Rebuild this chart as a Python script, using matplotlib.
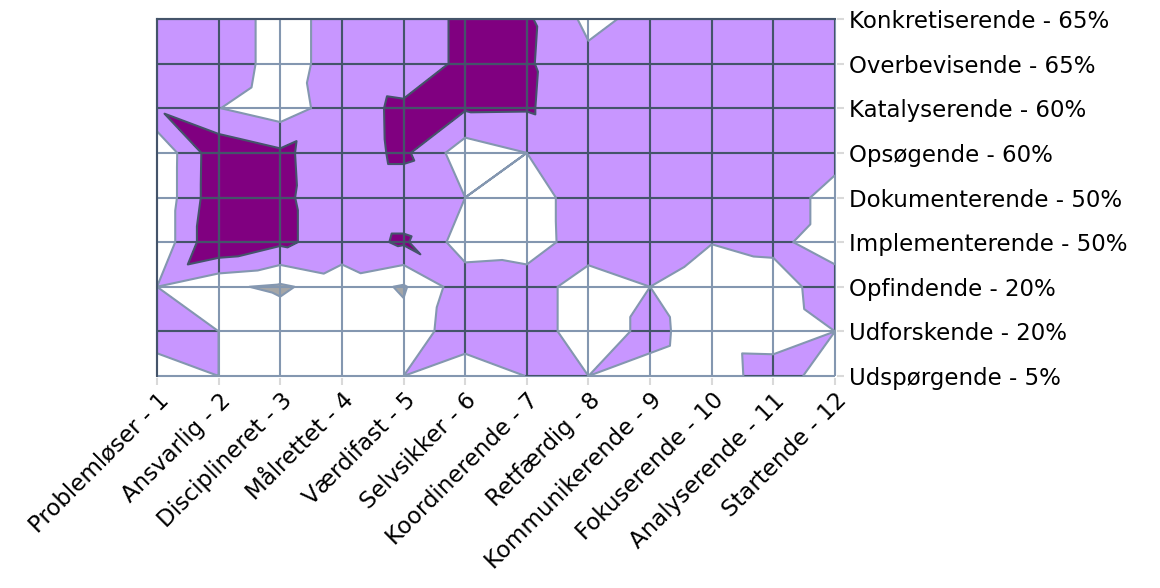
import numpy as np
import matplotlib.pyplot as plt
import matplotlib.tri as mtri
from matplotlib.collections import LineCollection

x_labels = ["Problemløser - 1", "Ansvarlig - 2", "Disciplineret - 3", "Målrettet - 4",
            "Værdifast - 5", "Selvsikker - 6", "Koordinerende - 7", "Retfærdig - 8",
            "Kommunikerende - 9", "Fokuserende - 10", "Analyserende - 11", "Startende - 12"]
# bottom to top
y_labels = ["Udspørgende - 5%", "Udforskende - 20%", "Opfindende - 20%",
            "Implementerende - 50%", "Dokumenterende - 50%", "Opsøgende - 60%",
            "Katalyserende - 60%", "Overbevisende - 65%", "Konkretiserende - 65%"]

# surface values, one series per row (bottom row first)
udspoergende    = [1.48, 2.00, 1.50, 1.50, 2.00, 1.30, 2.02, 2.00, 1.80, 1.60, 2.38, 1.59]
udforskende     = [2.50, 2.00, 1.53, 1.50, 1.30, 2.70, 2.40, 1.60, 2.19, 1.63, 1.60, 2.00]
opfindende      = [2.00, 1.15, 0.85, 1.50, 0.90, 2.60, 2.40, 1.60, 2.00, 1.60, 1.65, 2.40]
implementerende = [1.16, 4.00, 3.20, 2.50, 3.15, 1.50, 1.60, 2.43, 2.50, 2.02, 2.19, 1.60]
dokumenterende  = [1.16, 3.75, 3.20, 2.37, 2.37, 2.00, 1.60, 2.45, 2.50, 2.50, 2.60, 1.60]
opsoegende      = [1.16, 3.72, 3.17, 2.46, 3.21, 1.43, 2.00, 2.50, 2.50, 2.50, 2.50, 2.40]
katalyserende   = [2.90, 2.02, 1.475, 2.525, 3.22, 3.10, 3.08, 2.50, 2.50, 2.50, 2.50, 2.50]
overbevisende   = [2.50, 2.60, 1.60, 2.40, 2.19, 3.30, 3.11, 2.26, 2.50, 2.50, 2.50, 2.50]
konkretiserende = [2.50, 2.60, 1.60, 2.40, 2.19, 3.30, 3.15, 1.75, 2.28, 2.50, 2.50, 2.50]

rows = [udspoergende, udforskende, opfindende, implementerende, dokumenterende,
        opsoegende, katalyserende, overbevisende, konkretiserende]

levels = [-1, 1, 2, 3, 6]
band_colors = ["#A6A6A6", "#FFFFFF", "#C896FF", "#800080"]
light = "#8497B0"
dark = "#44546A"

z = np.array(rows)
ny, nx = z.shape
xs = np.arange(1, nx + 1)
ys = np.arange(1, ny + 1)
X, Y = np.meshgrid(xs, ys)
zf = z.ravel()

# split each cell along the diagonal with the higher mean (like excel does)
tris = []
for j in range(ny - 1):
    for i in range(nx - 1):
        bl = j * nx + i
        br = bl + 1
        tl = bl + nx
        tr = tl + 1
        if zf[bl] + zf[tr] >= zf[tl] + zf[br]:
            tris += [[bl, br, tr], [bl, tr, tl]]
        else:
            tris += [[bl, br, tl], [br, tr, tl]]
tri = mtri.Triangulation(X.ravel(), Y.ravel(), tris)

fig = plt.figure(figsize=(11.6, 5.88), dpi=100)
ax = fig.add_axes([0.13375, 0.35748, 0.58767, 0.61327])

cf = ax.tricontourf(tri, zf, levels=levels, colors=band_colors, zorder=1)

segs = [[(x, 1), (x, ny)] for x in xs] + [[(1, y), (nx, y)] for y in ys]
ax.add_collection(LineCollection(segs, colors=light, linewidths=1.5, zorder=2))
for p in cf.get_paths()[2:]:
    lc = LineCollection(segs, colors=dark, linewidths=1.5, zorder=3)
    ax.add_collection(lc)
    lc.set_clip_path(p, ax.transData)

ax.tricontour(tri, zf, levels=[1, 2], colors=light, linewidths=1.5, zorder=4)
ax.tricontour(tri, zf, levels=[3], colors=dark, linewidths=1.5, zorder=4)

ax.plot([1, 1], [1, ny], color=dark, lw=1.5, zorder=5, clip_on=False)
ax.plot([1, nx], [ny, ny], color=dark, lw=1.5, zorder=5, clip_on=False)

ax.set_xlim(1 - 0.03, nx + 0.03)
ax.set_ylim(1 - 0.04, ny + 0.04)
for s in ax.spines.values():
    s.set_visible(False)

ax.set_xticks(xs)
ax.set_xticklabels(x_labels, rotation=45, ha="right", rotation_mode="anchor")
ax.yaxis.tick_right()
ax.set_yticks(ys)
ax.set_yticklabels(y_labels)
ax.tick_params(axis="both", color="#D9D9D9", labelcolor="black", length=5,
               width=1.5, labelsize=16.5)
ax.tick_params(axis="y", pad=4)
ax.tick_params(axis="x", pad=3)

fig.savefig("out.png", dpi=100)
